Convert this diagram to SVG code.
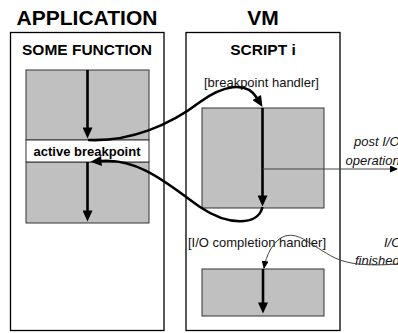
<svg xmlns="http://www.w3.org/2000/svg" width="398" height="333" viewBox="0 0 398 333">
  <style>
    .title { font-family: "Liberation Sans", Arial, sans-serif; font-weight: bold; font-size: 21px; fill: #000; text-anchor: middle; }
    .head { font-family: "Liberation Sans", Arial, sans-serif; font-weight: bold; font-size: 15.5px; fill: #000; text-anchor: middle; }
    .lbl { font-family: "Liberation Sans", Arial, sans-serif; font-size: 13px; fill: #111; }
    .bold { font-family: "Liberation Sans", Arial, sans-serif; font-weight: bold; font-size: 13px; fill: #000; text-anchor: middle; }
    .note { font-family: "Liberation Sans", Arial, sans-serif; font-style: italic; font-size: 13px; fill: #111; }
    .frame { fill: #fff; stroke: #000; stroke-width: 1.3; }
    .block { fill: #c0c0c0; stroke: #333; stroke-width: 1; }
    .flow { fill: none; stroke: #000; stroke-width: 2.6; }
    .thin { fill: none; stroke: #444; stroke-width: 1; }
  </style>
  <defs>
    <marker id="head" markerUnits="userSpaceOnUse" markerWidth="12" markerHeight="10" viewBox="0 0 11 10" refX="0.5" refY="5" orient="auto">
      <path d="M0 0 L11 5 L0 10 z" fill="#000"/>
    </marker>
    <marker id="tip" markerUnits="userSpaceOnUse" markerWidth="8" markerHeight="7" viewBox="0 0 8 7" refX="7" refY="3.5" orient="auto">
      <path d="M0 0 L8 3.5 L0 7 z" fill="#000"/>
    </marker>
  </defs>

  <!-- column titles -->
  <text class="title" x="87" y="25">APPLICATION</text>
  <text class="title" x="263" y="25">VM</text>

  <!-- application side -->
  <g id="some-function">
    <rect class="frame" x="10.5" y="32.5" width="153.5" height="298"/>
    <text class="head" x="87" y="55">SOME FUNCTION</text>
    <rect class="block" x="26" y="70" width="123" height="70"/>
    <rect class="block" x="26" y="162" width="123" height="61"/>
  </g>
  <g id="active-breakpoint">
    <rect x="26" y="140" width="123" height="22" fill="#fff" stroke="#333" stroke-width="1"/>
    <text class="bold" x="87" y="156">active breakpoint</text>
  </g>

  <!-- VM side -->
  <g id="script-i">
    <rect class="frame" x="186" y="32.5" width="154" height="298"/>
    <text class="head" x="263" y="55">SCRIPT i</text>
  </g>
  <g id="breakpoint-handler">
    <text class="lbl" x="204" y="87">[breakpoint handler]</text>
    <rect class="block" x="202" y="108" width="122" height="100"/>
  </g>
  <g id="io-completion-handler">
    <text class="lbl" x="188" y="247">[I/O completion handler]</text>
    <rect class="block" x="202" y="269" width="122" height="47"/>
  </g>

  <!-- side notes -->
  <g id="post-io">
    <text class="note" x="354" y="146">post I/O</text>
    <text class="note" x="345.5" y="165">operation</text>
  </g>
  <g id="io-finished">
    <text class="note" x="384" y="247">I/O</text>
    <text class="note" x="355" y="265">finished</text>
  </g>

  <!-- control flow -->
  <g id="connectors">
    <path class="flow" d="M87.5 70 V128" marker-end="url(#head)"/>
    <path class="flow" d="M87.5 162 V211" marker-end="url(#head)"/>
    <path class="flow" d="M262.5 108 V196" marker-end="url(#head)"/>
    <path class="flow" d="M263 269 V303" marker-end="url(#head)"/>
    <path class="flow" d="M88 140 C130 142 170 125 200 102 C222 86 246 80 257 98" marker-end="url(#head)"/>
    <path class="flow" d="M262.5 207 C258 226 228 226 200 207 C170 186 140 158 101 161" marker-end="url(#head)"/>
    <path class="thin" d="M262.5 169 H397" marker-end="url(#tip)"/>
    <path class="thin" d="M398 264 C370 266 350 265 335 258 C310 245 300 232 285 236 C273 240 266 256 264 268" marker-end="url(#tip)"/>
  </g>
</svg>
